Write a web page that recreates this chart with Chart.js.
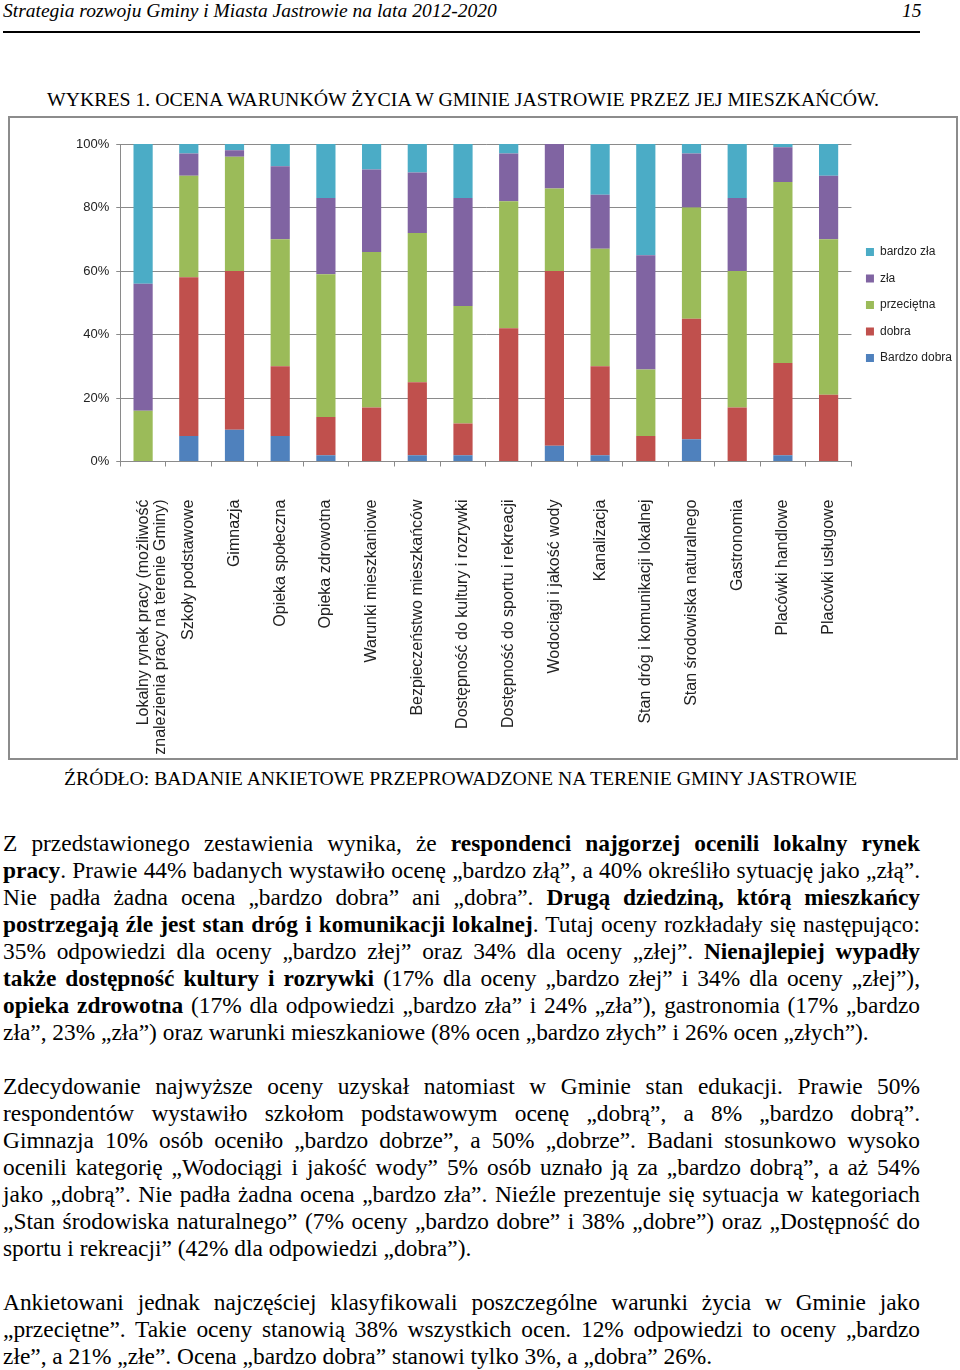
<!DOCTYPE html>
<html lang="pl">
<head>
<meta charset="utf-8">
<script src="https://cdn.jsdelivr.net/npm/chart.js@4/dist/chart.umd.min.js"></script>
<style>
  html, body { margin: 0; padding: 0; background: #fff; }
  body { width: 960px; height: 1370px; position: relative; overflow: hidden; font-family: "Liberation Serif", "Times New Roman", serif; color: #000; }
  .abs { position: absolute; white-space: nowrap; }
  #hdr { left: 3px; top: 0px; font-style: italic; font-size: 19.5px; line-height: 22px; }
  #pg { left: 902px; top: 0px; font-style: italic; font-size: 19.5px; line-height: 22px; }
  #rule { position: absolute; left: 3px; top: 31px; width: 917px; height: 2px; background: #000; }
  #title { left: 47px; top: 88px; font-size: 19.8px; line-height: 22px; }
  #box { position: absolute; left: 8px; top: 116px; width: 950px; height: 644px; box-sizing: border-box; border: 2px solid #8c8c8c; }
  #cv { position: absolute; left: 10px; top: 118px; }
  #src { left: 64px; top: 767px; font-size: 19.7px; line-height: 22px; }
  .para { position: absolute; left: 3px; width: 917px; font-size: 23.4px; }
  .ln { height: 27px; line-height: 27px; text-align: justify; text-align-last: justify; white-space: normal; overflow: visible; }
  .ln.last { text-align: left; text-align-last: left; }
</style>
</head>
<body>
<div id="hdr" class="abs">Strategia rozwoju Gminy i Miasta Jastrowie na lata 2012-2020</div>
<div id="pg" class="abs">15</div>
<div id="rule"></div>
<div id="title" class="abs">WYKRES 1. OCENA WARUNKÓW ŻYCIA W GMINIE JASTROWIE PRZEZ JEJ MIESZKAŃCÓW.</div>
<div id="box"></div>
<canvas id="cv" width="952" height="640"></canvas>
<div id="src" class="abs">ŹRÓDŁO: BADANIE ANKIETOWE PRZEPROWADZONE NA TERENIE GMINY JASTROWIE</div>

<div class="para" style="top:830px">
  <div class="ln">Z przedstawionego zestawienia wynika, że <b>respondenci najgorzej ocenili lokalny rynek</b></div>
  <div class="ln"><b>pracy</b>. Prawie 44% badanych wystawiło ocenę „bardzo złą”, a 40% określiło sytuację jako „złą”.</div>
  <div class="ln">Nie padła żadna ocena „bardzo dobra” ani „dobra”. <b>Drugą dziedziną, którą mieszkańcy</b></div>
  <div class="ln"><b>postrzegają źle jest stan dróg i komunikacji lokalnej</b>. Tutaj oceny rozkładały się następująco:</div>
  <div class="ln">35% odpowiedzi dla oceny „bardzo złej” oraz 34% dla oceny „złej”. <b>Nienajlepiej wypadły</b></div>
  <div class="ln"><b>także dostępność kultury i rozrywki</b> (17% dla oceny „bardzo złej” i 34% dla oceny „złej”),</div>
  <div class="ln"><b>opieka zdrowotna</b> (17% dla odpowiedzi „bardzo zła” i 24% „zła”), gastronomia (17% „bardzo</div>
  <div class="ln last">zła”, 23% „zła”) oraz warunki mieszkaniowe (8% ocen „bardzo złych” i 26% ocen „złych”).</div>
</div>

<div class="para" style="top:1073px">
  <div class="ln">Zdecydowanie najwyższe oceny uzyskał natomiast w Gminie stan edukacji. Prawie 50%</div>
  <div class="ln">respondentów wystawiło szkołom podstawowym ocenę „dobrą”, a 8% „bardzo dobrą”.</div>
  <div class="ln">Gimnazja 10% osób oceniło „bardzo dobrze”, a 50% „dobrze”. Badani stosunkowo wysoko</div>
  <div class="ln">ocenili kategorię „Wodociągi i jakość wody” 5% osób uznało ją za „bardzo dobrą”, a aż 54%</div>
  <div class="ln">jako „dobrą”. Nie padła żadna ocena „bardzo zła”. Nieźle prezentuje się sytuacja w kategoriach</div>
  <div class="ln">„Stan środowiska naturalnego” (7% oceny „bardzo dobre” i 38% „dobre”) oraz „Dostępność do</div>
  <div class="ln last">sportu i rekreacji” (42% dla odpowiedzi „dobra”).</div>
</div>

<div class="para" style="top:1289px">
  <div class="ln">Ankietowani jednak najczęściej klasyfikowali poszczególne warunki życia w Gminie jako</div>
  <div class="ln">„przeciętne”. Takie oceny stanowią 38% wszystkich ocen. 12% odpowiedzi to oceny „bardzo</div>
  <div class="ln last">złe”, a 21% „złe”. Ocena „bardzo dobra” stanowi tylko 3%, a „dobra” 26%.</div>
</div>

<script>
const categories = [
  ['Lokalny rynek pracy (możliwość', 'znalezienia pracy na terenie Gminy)'],
  'Szkoły podstawowe',
  'Gimnazja',
  'Opieka społeczna',
  'Opieka zdrowotna',
  'Warunki mieszkaniowe',
  'Bezpieczeństwo mieszkańców',
  'Dostępność do kultury i rozrywki',
  'Dostępność do sportu i rekreacji',
  'Wodociągi i jakość wody',
  'Kanalizacja',
  'Stan dróg i komunikacji lokalnej',
  'Stan środowiska naturalnego',
  'Gastronomia',
  'Placówki handlowe',
  'Placówki usługowe'
];
const seriesNames = ['Bardzo dobra', 'dobra', 'przeciętna', 'zła', 'bardzo zła'];
const bardzoDobra = [0, 8, 10, 8, 2, 0, 2, 2, 0, 5, 2, 0, 7, 0, 2, 0];
const dobra       = [0, 50, 50, 22, 12, 17, 23, 10, 42, 55, 28, 8, 38, 17, 29, 21];
const przecietna  = [16, 32, 36, 40, 45, 49, 47, 37, 40, 26, 37, 21, 35, 43, 57, 49];
const zla         = [40, 7, 2, 23, 24, 26, 19, 34, 15, 14, 17, 36, 17, 23, 11, 20];
const bardzoZla   = [44, 3, 2, 7, 17, 8, 9, 17, 3, 0, 16, 35, 3, 17, 1, 10];
const yTicks = [0, 20, 40, 60, 80, 100];
const colors = ['#4F81BD', '#C0504D', '#9BBB59', '#8064A2', '#4BACC6'];

const seriesData = [bardzoDobra, dobra, przecietna, zla, bardzoZla];
const gridColor = '#8a8a8a';

new Chart(document.getElementById('cv'), {
  type: 'bar',
  data: {
    labels: categories,
    datasets: seriesData.map((d, i) => ({
      label: seriesNames[i],
      data: d,
      backgroundColor: colors[i],
      borderWidth: 0,
      categoryPercentage: 1.0,
      barPercentage: 0.42
    }))
  },
  options: {
    responsive: false,
    animation: false,
    devicePixelRatio: 1,
    layout: { padding: { left: 59, top: 26, right: 0, bottom: -21 } },
    plugins: {
      tooltip: { enabled: false },
      legend: {
        position: 'right',
        align: 'start',
        reverse: true,
        title: { display: true, text: '', padding: { top: 73, bottom: 0 } },
        labels: {
          boxWidth: 8,
          boxHeight: 8,
          padding: 14.5,
          color: '#222',
          font: { family: '"Liberation Sans", Arial, sans-serif', size: 12 }
        }
      }
    },
    scales: {
      x: {
        stacked: true,
        grid: { display: true, drawOnChartArea: false, offset: true, color: gridColor, tickLength: 5 },
        border: { display: true, color: gridColor, width: 1 },
        ticks: {
          autoSkip: false,
          minRotation: 90,
          maxRotation: 90,
          padding: 33,
          color: '#222',
          font: { family: '"Liberation Sans", Arial, sans-serif', size: 16, lineHeight: 1.1 }
        }
      },
      y: {
        stacked: true,
        min: 0,
        max: 100,
        afterBuildTicks: (axis) => { axis.ticks = yTicks.map(v => ({ value: v })); },
        grid: { color: gridColor, tickLength: 4 },
        border: { display: true, color: gridColor, width: 1 },
        ticks: {
          padding: 7,
          color: '#222',
          font: { family: '"Liberation Sans", Arial, sans-serif', size: 13 },
          callback: (v) => v + '%'
        }
      }
    }
  }
});
</script>
</body>
</html>
